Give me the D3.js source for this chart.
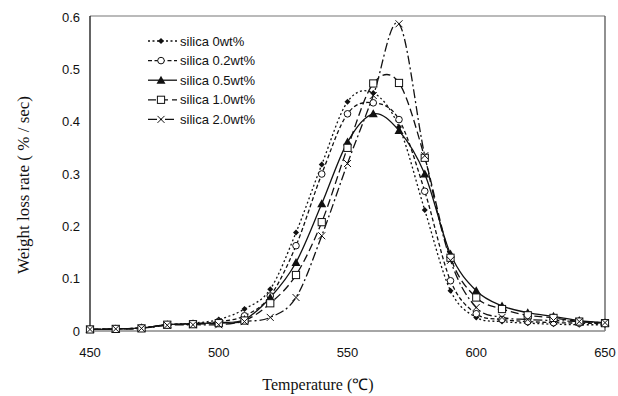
<!DOCTYPE html>
<html>
<head>
<meta charset="utf-8">
<script src="https://cdn.jsdelivr.net/npm/d3@7"></script>
<style>
  body { margin: 0; background: #fff; }
  svg { display: block; }
  .tick-label { font-family: "Liberation Sans", Arial, sans-serif; font-size: 13px; fill: #111; }
  .axis-title { font-family: "Liberation Serif", "Times New Roman", serif; font-size: 17px; fill: #111; }
  .legend-label { font-family: "Liberation Sans", Arial, sans-serif; font-size: 13px; fill: #111; }
</style>
</head>
<body>
<svg id="chart" width="618" height="396"></svg>
<script>
// temperatures (deg C), one reading every 10 degrees
let temps = d3.range(450, 651, 10);

// weight loss rate (% / sec) for each silica loading
let silica0 = [0.003, 0.004, 0.006, 0.012, 0.015, 0.022, 0.042, 0.080, 0.188, 0.318, 0.438,
               0.455, 0.390, 0.231, 0.077, 0.026, 0.018, 0.015, 0.013, 0.012, 0.012];
let silica02 = [0.003, 0.004, 0.006, 0.012, 0.014, 0.018, 0.029, 0.067, 0.163, 0.300, 0.415,
                0.436, 0.404, 0.267, 0.096, 0.033, 0.022, 0.018, 0.016, 0.015, 0.014];
let silica05 = [0.003, 0.004, 0.006, 0.012, 0.014, 0.016, 0.022, 0.064, 0.131, 0.243, 0.361,
                0.415, 0.383, 0.300, 0.147, 0.077, 0.048, 0.035, 0.028, 0.020, 0.016];
let silica10 = [0.003, 0.004, 0.005, 0.012, 0.013, 0.015, 0.020, 0.053, 0.107, 0.208, 0.350,
                0.473, 0.474, 0.331, 0.140, 0.064, 0.042, 0.030, 0.025, 0.018, 0.015];
let silica20 = [0.003, 0.004, 0.005, 0.011, 0.012, 0.012, 0.018, 0.026, 0.064, 0.182, 0.320,
                0.450, 0.587, 0.335, 0.135, 0.045, 0.026, 0.022, 0.020, 0.018, 0.016];

let seriesNames = ["silica 0wt%", "silica 0.2wt%", "silica 0.5wt%", "silica 1.0wt%", "silica 2.0wt%"];
let xTicks = [450, 500, 550, 600, 650];
let yTicks = [0, 0.1, 0.2, 0.3, 0.4, 0.5, 0.6];

let series = [
    {name: seriesNames[0], values: silica0, dash: "2,2.5", marker: "dot"},
    {name: seriesNames[1], values: silica02, dash: "4,2.5", marker: "circle"},
    {name: seriesNames[2], values: silica05, dash: null, marker: "triangle"},
    {name: seriesNames[3], values: silica10, dash: "8,4", marker: "square"},
    {name: seriesNames[4], values: silica20, dash: "9,3,2,3", marker: "cross"}
];

let margin = {top: 16, right: 13, bottom: 65, left: 90},
    width = 618 - margin.left - margin.right,
    height = 396 - margin.top - margin.bottom;

let svg = d3.select("#chart");
let g = svg.append("g")
    .attr("transform", "translate(" + margin.left + "," + margin.top + ")");

let x = d3.scaleLinear().domain([450, 650]).range([0, width]);
let y = d3.scaleLinear().domain([0, 0.6]).range([height, 1]);

// plot frame
g.append("line").attr("x1", 0).attr("x2", width).attr("y1", 0).attr("y2", 0)
    .attr("stroke", "#777").attr("stroke-width", 1.2);
g.append("line").attr("x1", width).attr("x2", width).attr("y1", 0).attr("y2", height)
    .attr("stroke", "#555").attr("stroke-width", 1.3);
g.append("line").attr("x1", 0).attr("x2", width).attr("y1", height).attr("y2", height)
    .attr("stroke", "#888").attr("stroke-width", 1.5);
g.append("line").attr("x1", 0).attr("x2", 0).attr("y1", 0).attr("y2", height)
    .attr("stroke", "#111").attr("stroke-width", 1.3);

// tick labels
g.selectAll(".ytick").data(yTicks).enter().append("text")
    .attr("class", "tick-label")
    .attr("x", -10)
    .attr("y", function(d) { return y(d); })
    .attr("dy", "0.35em")
    .attr("text-anchor", "end")
    .text(function(d) { return d === 0 ? "0" : d3.format(".1f")(d); });

g.selectAll(".xtick").data(xTicks).enter().append("text")
    .attr("class", "tick-label")
    .attr("x", function(d) { return x(d); })
    .attr("y", height + 26)
    .attr("text-anchor", "middle")
    .text(function(d) { return d; });

// axis titles
svg.append("text")
    .attr("class", "axis-title")
    .attr("transform", "translate(29,185) rotate(-90)")
    .attr("text-anchor", "middle")
    .text("Weight loss rate ( % / sec)");

svg.append("text")
    .attr("class", "axis-title")
    .attr("x", 318)
    .attr("y", 390)
    .attr("text-anchor", "middle")
    .style("font-size", "16px")
    .text("Temperature (℃)");

// smoothed lines like a spreadsheet "smoothed line" chart
let line = d3.line()
    .x(function(d, i) { return x(temps[i]); })
    .y(function(d) { return y(d); })
    .curve(d3.curveCardinal.tension(0));

g.selectAll(".series-line").data(series).enter().append("path")
    .attr("class", "series-line")
    .attr("d", function(s) { return line(s.values); })
    .attr("fill", "none")
    .attr("stroke", "#111")
    .attr("stroke-width", 1.3)
    .attr("stroke-dasharray", function(s) { return s.dash; });

// draws one marker of the given kind inside selection sel
function drawMarker(sel, kind) {
    if (kind === "dot") {
        sel.append("path").attr("d", "M0,-3L3,0L0,3L-3,0Z").attr("fill", "#111");
    } else if (kind === "circle") {
        sel.append("circle").attr("r", 3.3).attr("fill", "#fff").attr("stroke", "#111").attr("stroke-width", 1);
    } else if (kind === "triangle") {
        sel.append("path").attr("d", "M0,-4.5L4.5,3.5L-4.5,3.5Z").attr("fill", "#111");
    } else if (kind === "square") {
        sel.append("rect").attr("x", -3.6).attr("y", -3.6).attr("width", 7.2).attr("height", 7.2)
            .attr("fill", "#fff").attr("stroke", "#111").attr("stroke-width", 1);
    } else if (kind === "cross") {
        sel.append("path").attr("d", "M-3.5,-3.5L3.5,3.5M-3.5,3.5L3.5,-3.5")
            .attr("stroke", "#111").attr("stroke-width", 1);
    }
}

series.forEach(function(s) {
    g.selectAll(null).data(s.values).enter().append("g")
        .attr("transform", function(d, i) {
            return "translate(" + x(temps[i]) + "," + y(d) + ")";
        })
        .each(function() { drawMarker(d3.select(this), s.marker); });
});

// legend
let legend = svg.append("g").attr("transform", "translate(148,41)");
let legendRow = legend.selectAll(".legend-row").data(series).enter().append("g")
    .attr("transform", function(d, i) { return "translate(0," + (i * 19.6) + ")"; });

legendRow.append("line")
    .attr("x1", 0).attr("x2", 29).attr("y1", 0).attr("y2", 0)
    .attr("stroke", "#111").attr("stroke-width", 1.3)
    .attr("stroke-dasharray", function(s) { return s.dash; });

legendRow.append("g")
    .attr("transform", "translate(13,0)")
    .each(function(s) { drawMarker(d3.select(this), s.marker); });

legendRow.append("text")
    .attr("class", "legend-label")
    .attr("x", 32)
    .attr("dy", "0.35em")
    .text(function(s) { return s.name; });
</script>
</body>
</html>
